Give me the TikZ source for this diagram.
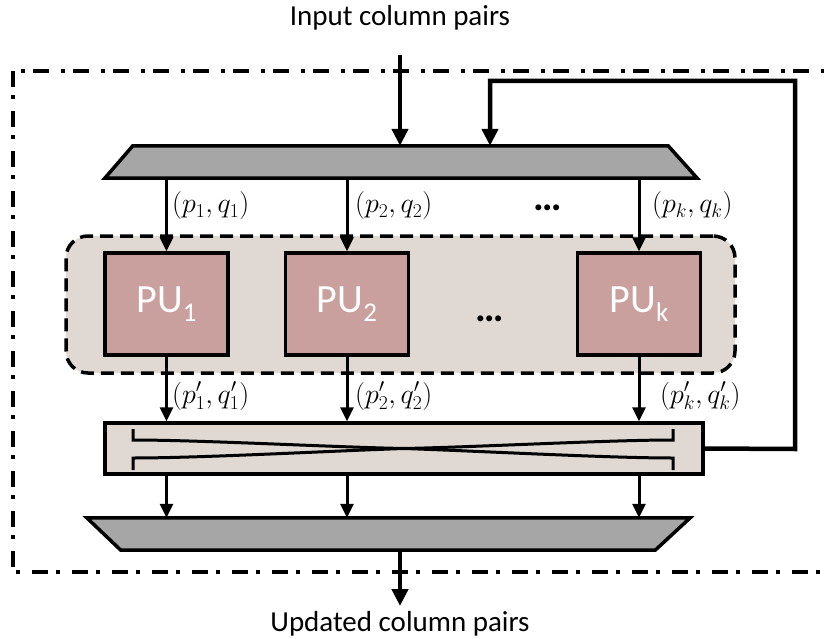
\RequirePackage{fix-cm}
\documentclass[tikz,border=0pt]{standalone}
\usepackage{fontspec}
\setmainfont{Carlito}
\usetikzlibrary{arrows.meta}
\definecolor{trapgray}{RGB}{166,166,166}
\definecolor{beige}{RGB}{224,216,210}
\definecolor{pupink}{RGB}{201,160,157}
\begin{document}
\begin{tikzpicture}[x=1pt,y=-1pt,
  box/.style={draw=none,minimum width=#1,inner sep=0pt},
  trap/.style={draw=black,fill=trapgray,line width=3.5pt,line join=miter},
  pu/.style={draw=black,fill=pupink,line width=3.5pt,minimum width=123pt,minimum height=102pt,inner sep=0pt,
     text=white,font=\fontsize{40}{44}\selectfont},
  grp/.style={draw=black,fill=beige,line width=3.5pt,dash pattern=on 13pt off 7pt,rounded corners=22pt,
     minimum width=669pt,minimum height=137pt,inner sep=0pt},
  xbar/.style={draw=black,fill=beige,line width=3.5pt,minimum width=598pt,minimum height=51pt,inner sep=0pt},
  thinarrow/.style={line width=3pt,-{Triangle[length=14pt,width=13pt]}},
  thickarrow/.style={line width=4.5pt,-{Triangle[length=17pt,width=16pt]}},
  outer/.style={line width=3.5pt,dash pattern=on 16pt off 8pt on 4pt off 12pt},
  lbl/.style={anchor=west,inner sep=0pt,font=\fontsize{28}{32}\selectfont},
  title/.style={font=\fontsize{29}{32}\selectfont,inner sep=0pt},
  dots/.style={inner sep=0pt,anchor=base,font=\fontsize{40}{42}\selectfont\bfseries}
]
\useasboundingbox (0,0) rectangle (824,639);

% outer dash-dot frame (right side beyond picture)
\begin{scope}
\clip (0,0) rectangle (824,639);
\draw[outer] (13,71) rectangle (850,572);
\end{scope}

% texts
\node[title] (intext) at (400,18) {Input column pairs};
\node[title] (outtext) at (400,624) {Updated column pairs};

% top trapezoid
\node[box=592pt,minimum height=32pt] (top) at (401,162) {};
\path[trap] (top.south west) -- (top.south east) -- ([xshift=-29pt]top.north east) -- ([xshift=28pt]top.north west) -- cycle;

% group box
\node[grp] (grp) at (400.5,304.5) {};

% PUs
\node[pu] (pu1) at (166.5,304) {PU\raisebox{-9pt}{\fontsize{27}{30}\selectfont 1}};
\node[pu] (pu2) at (347,304) {PU\raisebox{-9pt}{\fontsize{27}{30}\selectfont 2}};
\node[pu] (puk) at (639,304) {PU\raisebox{-9pt}{\fontsize{27}{30}\selectfont k}};
\node[dots] (dotsb) at (490,321) {…};

% crossbar
\node[xbar] (xb) at (404,448.5) {};
\draw[line width=3pt,line join=miter]
  (133,429) -- (133,440) .. controls (200,440) and (330,447) .. (xb.center)
  .. controls (478,451) and (608,458) .. (673,458) -- (673,470);
\draw[line width=3pt,line join=miter]
  (133,470) -- (133,458) .. controls (200,458) and (330,451) .. (xb.center)
  .. controls (478,447) and (608,440) .. (673,440) -- (673,429);

% bottom trapezoid
\node[box=603pt,minimum height=32pt] (bot) at (388.5,534) {};
\path[trap] (bot.north west) -- (bot.north east) -- ([xshift=-35pt]bot.south east) -- ([xshift=34pt]bot.south west) -- cycle;

% arrows top trapezoid -> PUs
\draw[thinarrow] (pu1 |- top.south) -- (pu1.north);
\draw[thinarrow] (pu2 |- top.south) -- (pu2.north);
\draw[thinarrow] (puk |- top.south) -- (puk.north);

% arrows PUs -> crossbar
\draw[thinarrow] (pu1.south) -- (pu1 |- xb.north);
\draw[thinarrow] (pu2.south) -- (pu2 |- xb.north);
\draw[thinarrow] (puk.south) -- (puk |- xb.north);

% arrows crossbar -> bottom trapezoid
\draw[thinarrow] (pu1 |- xb.south) -- (pu1 |- bot.north);
\draw[thinarrow] (pu2 |- xb.south) -- (pu2 |- bot.north);
\draw[thinarrow] (puk |- xb.south) -- (puk |- bot.north);

% labels
\node[lbl] (l1) at (172,206) {$(p_1,q_1)$};
\node[lbl] (l2) at (355,206) {$(p_2,q_2)$};
\node[dots] (dotsa) at (548,211) {…};
\node[lbl] (lk) at (652,206) {$(p_k,q_k)$};
\node[lbl] (m1) at (172,396) {$(p'_1,q'_1)$};
\node[lbl] (m2) at (355,396) {$(p'_2,q'_2)$};
\node[lbl] (mk) at (660,396) {$(p'_k,q'_k)$};

% input arrow
\coordinate (inS) at (400,55);
\draw[thickarrow] (inS) -- (inS |- top.north);

% feedback
\coordinate (fbA) at (795,449);
\coordinate (fbB) at (490,81);
\draw[thickarrow,line join=miter] (xb.east) -- (fbA) |- (fbB) -- (fbB |- top.north);

% output arrow
\coordinate (outE) at (400,606);
\draw[thickarrow] (outE |- bot.south) -- (outE);
\end{tikzpicture}
\end{document}
